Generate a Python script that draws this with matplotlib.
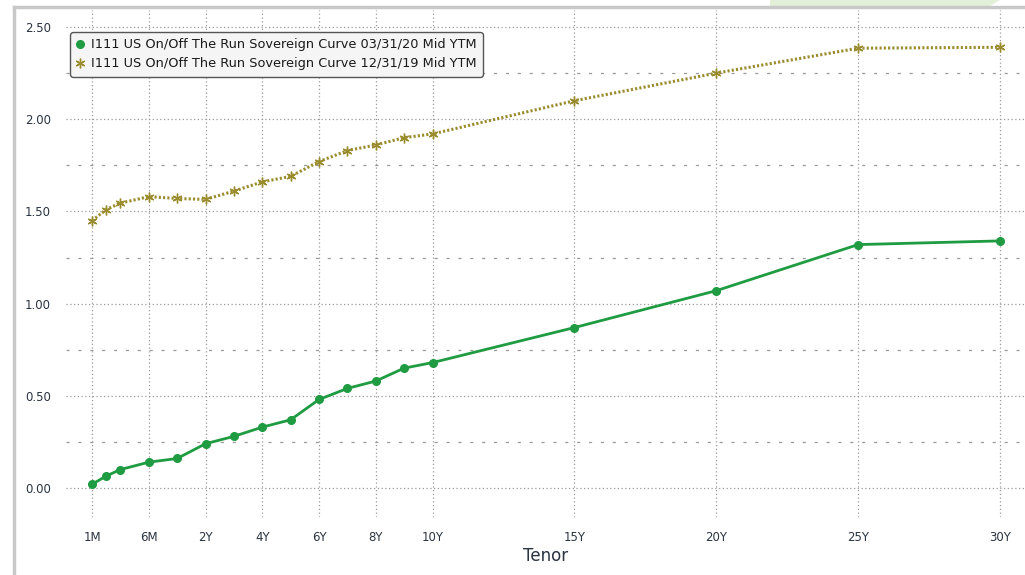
import matplotlib
matplotlib.use("Agg")
import matplotlib.pyplot as plt
from matplotlib.lines import Line2D
from matplotlib.patches import Polygon
from matplotlib.ticker import MultipleLocator, FormatStrFormatter

# Data
tenors = ["1M", "2M", "3M", "6M", "1Y", "2Y", "3Y", "4Y", "5Y", "6Y", "7Y",
          "8Y", "9Y", "10Y", "15Y", "20Y", "25Y", "30Y"]
tenor_pos = [0, 0.5, 1, 2, 3, 4, 5, 6, 7, 8, 9, 10, 11, 12, 17, 22, 27, 32]
ytm_033120 = [0.02, 0.065, 0.10, 0.14, 0.16, 0.24, 0.28, 0.33, 0.37, 0.48, 0.54,
              0.58, 0.65, 0.68, 0.87, 1.07, 1.32, 1.34]
ytm_123119 = [1.45, 1.51, 1.545, 1.58, 1.57, 1.565, 1.61, 1.66, 1.69, 1.77, 1.83,
              1.86, 1.90, 1.92, 2.10, 2.25, 2.385, 2.39]
tick_labels = ["1M", "6M", "2Y", "4Y", "6Y", "8Y", "10Y", "15Y", "20Y", "25Y", "30Y"]
label_03 = "I111 US On/Off The Run Sovereign Curve 03/31/20 Mid YTM"
label_12 = "I111 US On/Off The Run Sovereign Curve 12/31/19 Mid YTM"

W, H = 1025, 575
fig = plt.figure(figsize=(W / 100, H / 100), dpi=100)
fig.patch.set_facecolor("white")

# decorative frame
fig.add_artist(Polygon([[770 / W, 1], [1000 / W, 1], [990 / W, 1 - 6 / H], [770 / W, 1 - 6 / H]],
                       closed=True, transform=fig.transFigure, facecolor="#e3f0d9", edgecolor="none"))
fig.add_artist(Line2D([14 / W, 1], [1 - 7 / H, 1 - 7 / H], transform=fig.transFigure,
                      color="#c8c8c8", lw=2.5))
fig.add_artist(Line2D([14 / W, 14 / W], [0, 1 - 7 / H], transform=fig.transFigure,
                      color="#c8c8c8", lw=2.5))

ax = fig.add_axes([66 / W, 1 - 517 / H, (W - 66) / W, (517 - 10) / H])
ax.set_facecolor("white")

green = "#1f9b42"
olive = "#9a8c2c"

ax.plot(tenor_pos, ytm_033120, color=green, lw=2, marker="o", ms=5.5,
        label=label_03, zorder=3)
ax.plot(tenor_pos, ytm_123119, color=olive, lw=2.2, linestyle=(0, (0.7, 0.7)),
        marker=(6, 2, 0), ms=7, mew=1.0, label=label_12, zorder=3)

x_unit = 28.375
ax.set_xlim(-26 / x_unit, (W - 92) / x_unit)
y_unit = 184.4
ax.set_ylim(-29 / y_unit, 2.5 + 17 / y_unit)

tick_positions = [tenor_pos[tenors.index(t)] for t in tick_labels]
ax.set_xticks(tick_positions)
ax.set_xticklabels(tick_labels)
ax.yaxis.set_major_locator(MultipleLocator(0.5))
ax.yaxis.set_minor_locator(MultipleLocator(0.25))
ax.yaxis.set_major_formatter(FormatStrFormatter("%.2f"))

ax.tick_params(axis="both", which="both", length=0, labelsize=8.5, labelcolor="#2a3340")
ax.tick_params(axis="y", pad=11)
ax.tick_params(axis="x", pad=10)

ax.grid(True, which="major", axis="both", color="#9a9a9a", lw=0.9, linestyle=(0, (1.0, 2.0)))
ax.grid(True, which="minor", axis="y", color="#9a9a9a", lw=0.9, linestyle=(0, (2.5, 7)))
ax.set_axisbelow(True)

for s in ax.spines.values():
    s.set_visible(False)

ax.set_xlabel("Tenor", fontsize=12, color="#2a3340", labelpad=2)

leg = ax.legend(loc="upper left", bbox_to_anchor=(4 / (W - 66), 1 - 22 / 507),
                fontsize=9.3, frameon=True, fancybox=True, handlelength=0.6,
                handletextpad=0.5, borderpad=0.5, labelspacing=0.45,
                borderaxespad=0)
for h in leg.legend_handles:
    h.set_linestyle("none")
frame = leg.get_frame()
frame.set_facecolor("#f5f5f5")
frame.set_edgecolor("#555555")
frame.set_linewidth(1.0)
frame.set_alpha(1)
for t in leg.get_texts():
    t.set_color("#1a1a1a")

fig.savefig("out.png", dpi=100, facecolor=fig.get_facecolor())
